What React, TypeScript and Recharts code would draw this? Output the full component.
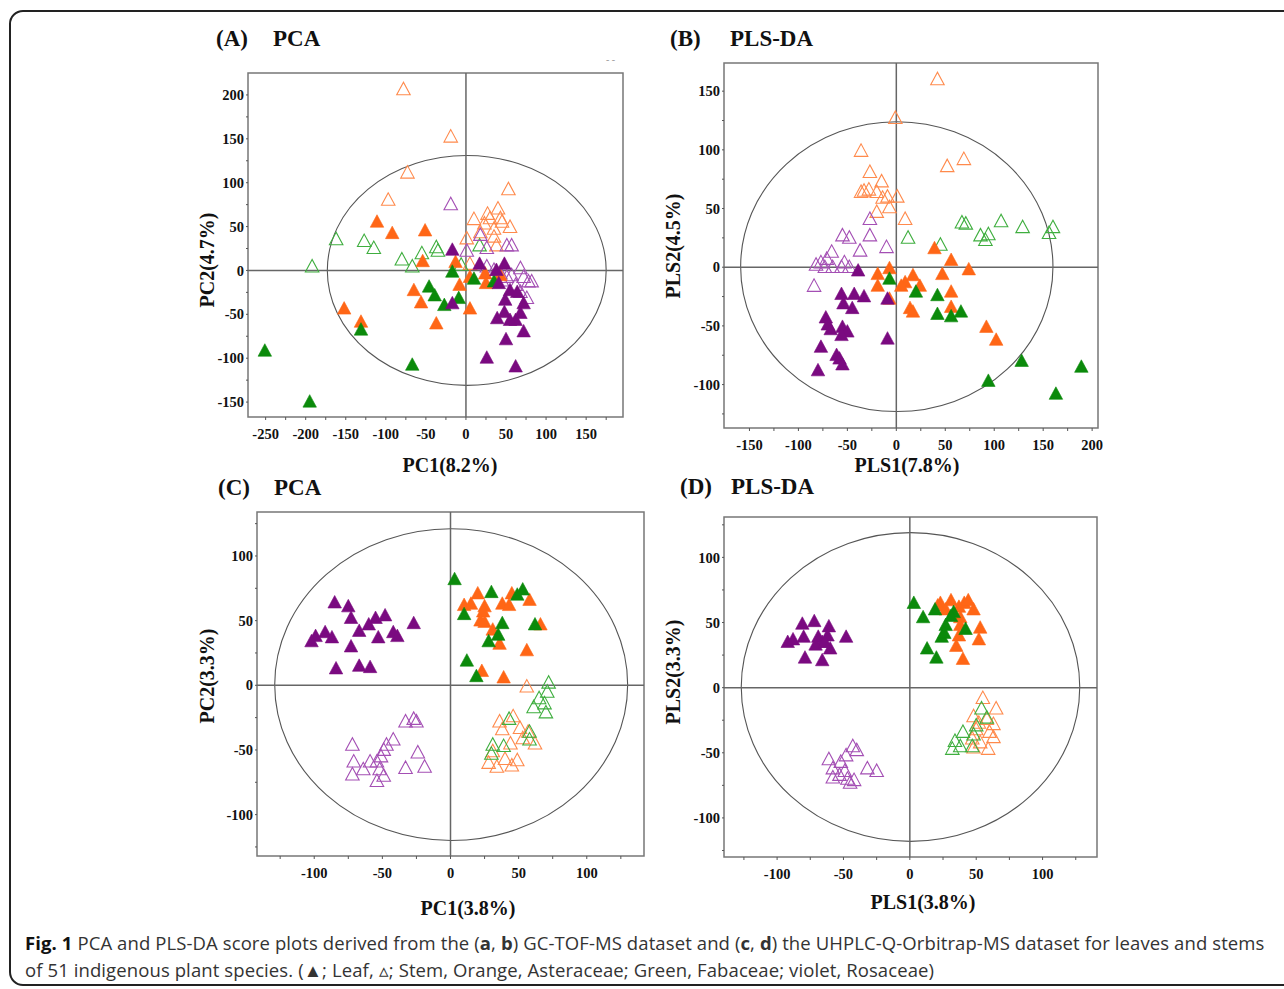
import React from 'react';
import { ScatterChart, Scatter, XAxis, YAxis, ReferenceLine, ReferenceArea } from 'recharts';

type Pt = [number, number];

// (A) PCA, GC-TOF-MS
const aLeafOrange: Pt[] = [[-111, 54], [-92, 41], [-51, 44], [-152, -45], [-131, -60], [-65, -24], [-56, -38], [-54, 9], [-37, -62], [-13, 8], [-8, -18], [5, -45], [5, -9], [24, -5], [25, -16], [43, -7]];
const aLeafGreen: Pt[] = [[-251, -93], [-195, -151], [-131, -69], [-67, -109], [-46, -20], [-39, -30], [-27, -41], [-9, -33], [-17, -3], [10, -11], [35, -14]];
const aLeafViolet: Pt[] = [[-17, 22], [17, 6], [38, -1], [48, 6], [41, -16], [55, -24], [64, -26], [49, -35], [72, -39], [39, -56], [48, -49], [62, -58], [68, -50], [72, -71], [50, -80], [26, -101], [62, -111], [-17, -39], [55, -58]];
const aStemOrange: Pt[] = [[-78, 205], [-19, 151], [-73, 110], [-97, 79], [53, 91], [40, 69], [27, 63], [10, 57], [43, 58], [55, 48], [23, 52], [35, 46], [1, 35], [35, 37], [38, 27], [18, 42], [45, 54], [5, 6], [30, 58]];
const aStemGreen: Pt[] = [[-192, 3], [-162, 34], [-127, 32], [-115, 24], [-80, 11], [-67, 3], [-55, 18], [-37, 25], [-35, 21], [-6, 5], [17, 27]];
const aStemViolet: Pt[] = [[-19, 74], [18, 39], [1, 21], [26, 24], [51, 27], [57, 27], [35, -1], [43, -5], [51, -9], [57, -7], [68, 1], [72, -9], [78, -14], [82, -14], [62, -18], [68, -26], [76, -33], [45, -13], [26, 3]];

// (B) PLS-DA, GC-TOF-MS
const bLeafOrange: Pt[] = [[39, 15], [56, 5], [74, -3], [-7, -2], [-19, -7], [47, -7], [17, -8], [9, -14], [24, -17], [-19, -17], [5, -17], [56, -22], [-7, -28], [14, -36], [17, -39], [56, -35], [92, -52], [102, -63]];
const bLeafGreen: Pt[] = [[-7, -11], [20, -22], [42, -25], [42, -41], [56, -43], [66, -39], [94, -98], [128, -81], [163, -109], [189, -86]];
const bLeafViolet: Pt[] = [[-39, -4], [-56, -24], [-43, -24], [-33, -26], [-54, -32], [-45, -36], [-72, -44], [-70, -50], [-67, -54], [-55, -52], [-50, -56], [-56, -59], [-77, -69], [-61, -76], [-58, -79], [-55, -84], [-80, -89], [-9, -62], [-9, -28]];
const bStemOrange: Pt[] = [[42, 159], [-1, 126], [-36, 98], [69, 91], [52, 85], [-27, 80], [-15, 72], [-36, 63], [-28, 65], [-20, 63], [-14, 58], [-9, 59], [1, 59], [-20, 46], [-7, 50], [9, 40], [-33, 64]];
const bStemGreen: Pt[] = [[12, 24], [45, 18], [67, 37], [71, 36], [86, 26], [94, 27], [91, 22], [107, 38], [129, 33], [156, 28], [160, 33]];
const bStemViolet: Pt[] = [[-27, 40], [-27, 26], [-55, 26], [-48, 24], [-37, 13], [-10, 16], [-66, 12], [-77, 3], [-82, 1], [-73, -1], [-65, -1], [-56, -1], [-48, -1], [-84, -17], [-53, 3], [-71, 6]];

// (C) PCA, UHPLC-Q-Orbitrap-MS
const cLeafOrange: Pt[] = [[10, 61], [15, 62], [20, 70], [25, 60], [24, 56], [22, 49], [25, 48], [38, 62], [45, 70], [43, 61], [58, 65], [31, 42], [36, 31], [66, 46], [56, 26], [23, 10], [39, 5]];
const cLeafGreen: Pt[] = [[3, 81], [10, 54], [30, 71], [49, 69], [53, 73], [38, 47], [35, 38], [28, 33], [62, 46], [12, 18], [19, 6]];
const cLeafViolet: Pt[] = [[-85, 63], [-75, 60], [-73, 51], [-55, 51], [-48, 53], [-27, 47], [-60, 46], [-67, 41], [-53, 36], [-42, 40], [-39, 37], [-92, 40], [-87, 36], [-99, 37], [-102, 33], [-73, 29], [-84, 12], [-67, 14], [-59, 13]];
const cStemOrange: Pt[] = [[56, -2], [36, -29], [46, -25], [38, -35], [51, -34], [53, -42], [44, -46], [62, -46], [28, -61], [34, -64], [40, -58], [45, -63], [49, -59], [31, -52], [57, -37]];
const cStemGreen: Pt[] = [[72, 1], [71, -6], [65, -11], [61, -18], [69, -15], [70, -22], [43, -27], [58, -37], [58, -43], [31, -47], [39, -48], [30, -54]];
const cStemViolet: Pt[] = [[-72, -47], [-71, -60], [-72, -70], [-64, -66], [-59, -60], [-33, -29], [-27, -27], [-25, -29], [-42, -43], [-47, -47], [-49, -51], [-51, -56], [-54, -60], [-52, -66], [-49, -71], [-54, -75], [-24, -53], [-19, -64], [-33, -65]];

// (D) PLS-DA, UHPLC-Q-Orbitrap-MS
const dLeafOrange: Pt[] = [[23, 64], [31, 66], [37, 61], [41, 64], [44, 66], [48, 59], [38, 53], [38, 47], [53, 45], [52, 36], [37, 39], [35, 31], [40, 21], [21, 62], [27, 59]];
const dLeafGreen: Pt[] = [[3, 64], [10, 53], [19, 59], [27, 47], [24, 38], [33, 57], [31, 54], [42, 44], [13, 29], [20, 22], [26, 41]];
const dLeafViolet: Pt[] = [[-81, 48], [-72, 50], [-61, 46], [-92, 34], [-88, 36], [-80, 38], [-69, 38], [-66, 34], [-62, 39], [-48, 38], [-71, 32], [-60, 29], [-79, 22], [-66, 20], [-64, 34]];
const dStemOrange: Pt[] = [[55, -9], [65, -17], [48, -23], [58, -25], [63, -29], [50, -33], [60, -35], [47, -40], [53, -43], [63, -39], [48, -47], [59, -48], [52, -28]];
const dStemGreen: Pt[] = [[54, -17], [58, -24], [40, -35], [34, -42], [32, -48], [38, -46], [48, -37], [50, -30], [47, -46]];
const dStemViolet: Pt[] = [[-61, -56], [-43, -46], [-40, -49], [-48, -53], [-52, -58], [-58, -63], [-58, -70], [-49, -65], [-47, -71], [-45, -74], [-42, -72], [-32, -63], [-25, -65], [-53, -68]];

// tick labels (major) and minor tick marks
const aXMajor = [-250, -200, -150, -100, -50, 0, 50, 100, 150];
const aXMinor = [-225, -175, -125, -75, -25, 25, 75, 125, 175];
const aYMajor = [-150, -100, -50, 0, 50, 100, 150, 200];
const aYMinor = [-125, -75, -25, 25, 75, 125, 175];
const bXMajor = [-150, -100, -50, 0, 50, 100, 150, 200];
const bXMinor = [-125, -75, -25, 25, 75, 125, 175];
const bYMajor = [-100, -50, 0, 50, 100, 150];
const bYMinor = [-125, -75, -25, 25, 75, 125];
const cdMajor = [-100, -50, 0, 50, 100];
const cdMinor = [-125, -75, -25, 25, 75, 125];

const ORANGE = '#ff6616';
const GREEN = '#0b8a0b';
const VIOLET = '#7a0a80';
const ORANGE_L = '#ff8a4c';
const GREEN_L = '#3fae3f';
const VIOLET_L = '#a44fb4';

const SERIF = '"Liberation Serif", "Times New Roman", serif';

const toXY = (pts: Pt[]) => pts.map(([x, y]) => ({ x, y }));

const tri = (color: string, hollow: boolean) => (p: any) => {
  const { cx, cy } = p;
  if (cx == null || cy == null) return <g />;
  const w = 13.5;
  const h = 12.5;
  const pts = `${cx},${cy - (h * 2) / 3} ${cx - w / 2},${cy + h / 3} ${cx + w / 2},${cy + h / 3}`;
  return (
    <polygon
      points={pts}
      fill={hollow ? 'none' : color}
      stroke={color}
      strokeWidth={hollow ? 1.1 : 0.6}
      strokeLinejoin="miter"
    />
  );
};

const ellipseShape = (p: any) => {
  const w = Math.abs(p.width);
  const h = Math.abs(p.height);
  const x = Math.min(p.x, p.x + p.width);
  const y = Math.min(p.y, p.y + p.height);
  return <ellipse cx={x + w / 2} cy={y + h / 2} rx={w / 2} ry={h / 2} fill="none" stroke="#555" strokeWidth={1.1} />;
};

const tickStyle = { fontFamily: SERIF, fontWeight: 700, fontSize: 14.5, fill: '#111' };

type PanelProps = {
  frame: [number, number, number, number];
  xDomain: [number, number];
  yDomain: [number, number];
  xMajor: number[];
  xMinor: number[];
  yMajor: number[];
  yMinor: number[];
  ellipse: [number, number, number, number];
  series: { pts: Pt[]; color: string; hollow: boolean }[];
};

const W = 50;
const H = 40;

function Panel({ frame, xDomain, yDomain, xMajor, xMinor, yMajor, yMinor, ellipse, series }: PanelProps) {
  const [fx0, fy0, fx1, fy1] = frame;
  const width = fx1 - fx0 + W + 5;
  const height = fy1 - fy0 + 5 + H;
  const xt = [...xMajor, ...xMinor].sort((a, b) => a - b);
  const yt = [...yMajor, ...yMinor].sort((a, b) => a - b);
  return (
    <div style={{ position: 'absolute', left: fx0 - W, top: fy0 - 5 }}>
      <ScatterChart width={width} height={height} margin={{ top: 5, right: 5, bottom: 0, left: 0 }}>
        <XAxis
          type="number"
          dataKey="x"
          domain={xDomain}
          ticks={xt}
          allowDataOverflow
          height={H}
          axisLine={false}
          tickSize={3}
          tickMargin={9}
          tickLine={{ stroke: '#555' }}
          tick={tickStyle}
          tickFormatter={(v: number) => (xMajor.includes(v) ? String(v) : '')}
          interval={0}
        />
        <YAxis
          type="number"
          dataKey="y"
          domain={yDomain}
          ticks={yt}
          allowDataOverflow
          width={W}
          axisLine={false}
          tickSize={2}
          tickMargin={2}
          tickLine={{ stroke: '#555' }}
          tick={tickStyle}
          tickFormatter={(v: number) => (yMajor.includes(v) ? String(v) : '')}
          interval={0}
        />
        <ReferenceArea
          x1={xDomain[0]}
          x2={xDomain[1]}
          y1={yDomain[0]}
          y2={yDomain[1]}
          fill="none"
          stroke="#777"
          strokeWidth={1.5}
          fillOpacity={0}
        />
        <ReferenceLine x={0} stroke="#666" strokeWidth={1.5} />
        <ReferenceLine y={0} stroke="#666" strokeWidth={1.5} />
        <ReferenceArea x1={ellipse[0]} x2={ellipse[1]} y1={ellipse[2]} y2={ellipse[3]} shape={ellipseShape} />
        {series.map((s, i) => (
          <Scatter key={i} data={toXY(s.pts)} fill={s.color} shape={tri(s.color, s.hollow)} isAnimationActive={false} />
        ))}
      </ScatterChart>
    </div>
  );
}

const Txt = ({ x, y, size, children, rotate, anchor = 'center' }: any) => (
  <div
    style={{
      position: 'absolute',
      left: x,
      top: y,
      transform: `translate(${anchor === 'left' ? '0' : '-50%'}, -50%)${rotate ? ' rotate(-90deg)' : ''}`,
      fontFamily: SERIF,
      fontWeight: 700,
      fontSize: size,
      color: '#111',
      whiteSpace: 'nowrap',
      lineHeight: 1,
    }}
  >
    {children}
  </div>
);

export default function App() {
  const stemsThenLeaves = (so: Pt[], sg: Pt[], sv: Pt[], lo: Pt[], lg: Pt[], lv: Pt[]) => [
    { pts: so, color: ORANGE_L, hollow: true },
    { pts: sg, color: GREEN_L, hollow: true },
    { pts: sv, color: VIOLET_L, hollow: true },
    { pts: lo, color: ORANGE, hollow: false },
    { pts: lg, color: GREEN, hollow: false },
    { pts: lv, color: VIOLET, hollow: false },
  ];
  return (
    <div style={{ position: 'absolute', left: 0, top: 0, width: 1284, height: 989, background: '#fff', overflow: 'hidden' }}>
      <div
        style={{
          position: 'absolute',
          left: 9,
          top: 10,
          width: 1320,
          height: 976,
          border: '2px solid #222',
          borderRadius: 14,
          boxSizing: 'border-box',
        }}
      />

      {/* titles */}
      <Txt x={216} y={38} size={23} anchor="left">(A)</Txt>
      <Txt x={273} y={38} size={23} anchor="left">PCA</Txt>
      <Txt x={670} y={38} size={23} anchor="left">(B)</Txt>
      <Txt x={730} y={38} size={23} anchor="left">PLS-DA</Txt>
      <Txt x={218} y={487} size={23} anchor="left">(C)</Txt>
      <Txt x={274} y={487} size={23} anchor="left">PCA</Txt>
      <Txt x={680} y={486} size={23} anchor="left">(D)</Txt>
      <Txt x={731} y={486} size={23} anchor="left">PLS-DA</Txt>
      <div style={{ position: 'absolute', left: 606, top: 54, fontSize: 10, color: '#999', fontFamily: SERIF }}>- -</div>

      <Panel
        frame={[248, 73, 623, 417]}
        xDomain={[-272, 196]}
        yDomain={[-167, 225]}
        xMajor={aXMajor}
        xMinor={aXMinor}
        yMajor={aYMajor}
        yMinor={aYMinor}
        ellipse={[-173, 175, -131, 131]}
        series={stemsThenLeaves(aStemOrange, aStemGreen, aStemViolet, aLeafOrange, aLeafGreen, aLeafViolet)}
      />
      <Panel
        frame={[724, 63, 1098, 428]}
        xDomain={[-176, 206]}
        yDomain={[-137, 174]}
        xMajor={bXMajor}
        xMinor={bXMinor}
        yMajor={bYMajor}
        yMinor={bYMinor}
        ellipse={[-159, 160, -123, 124]}
        series={stemsThenLeaves(bStemOrange, bStemGreen, bStemViolet, bLeafOrange, bLeafGreen, bLeafViolet)}
      />
      <Panel
        frame={[257, 512, 644, 856]}
        xDomain={[-142, 142]}
        yDomain={[-132, 134]}
        xMajor={cdMajor}
        xMinor={cdMinor}
        yMajor={cdMajor}
        yMinor={cdMinor}
        ellipse={[-129, 130, -120, 121]}
        series={stemsThenLeaves(cStemOrange, cStemGreen, cStemViolet, cLeafOrange, cLeafGreen, cLeafViolet)}
      />
      <Panel
        frame={[724, 517, 1097, 857]}
        xDomain={[-140, 141]}
        yDomain={[-130, 131]}
        xMajor={cdMajor}
        xMinor={cdMinor}
        yMajor={cdMajor}
        yMinor={cdMinor}
        ellipse={[-127, 128, -118, 119]}
        series={stemsThenLeaves(dStemOrange, dStemGreen, dStemViolet, dLeafOrange, dLeafGreen, dLeafViolet)}
      />

      {/* axis titles */}
      <Txt x={450} y={465} size={20}>PC1(8.2%)</Txt>
      <Txt x={207} y={260} size={20} rotate>PC2(4.7%)</Txt>
      <Txt x={907} y={465} size={20}>PLS1(7.8%)</Txt>
      <Txt x={673} y={246} size={20} rotate>PLS2(4.5%)</Txt>
      <Txt x={468} y={908} size={20}>PC1(3.8%)</Txt>
      <Txt x={207} y={676} size={20} rotate>PC2(3.3%)</Txt>
      <Txt x={923} y={902} size={20}>PLS1(3.8%)</Txt>
      <Txt x={673} y={672} size={20} rotate>PLS2(3.3%)</Txt>

      {/* caption */}
      <div
        style={{
          position: 'absolute',
          left: 25,
          top: 929,
          width: 1260,
          fontFamily: '"Open Sans", sans-serif',
          fontSize: 18.5,
          letterSpacing: 0.1,
          lineHeight: '27px',
          color: '#333',
          whiteSpace: 'nowrap',
        }}
      >
        <div>
          <b style={{ color: '#111' }}>Fig. 1</b> PCA and PLS-DA score plots derived from the (<b>a</b>, <b>b</b>) GC-TOF-MS dataset
          and (<b>c</b>, <b>d</b>) the UHPLC-Q-Orbitrap-MS dataset for leaves and stems
        </div>
        <div>of 51 indigenous plant species. (▲; Leaf, ▵; Stem, Orange, Asteraceae; Green, Fabaceae; violet, Rosaceae)</div>
      </div>
    </div>
  );
}
